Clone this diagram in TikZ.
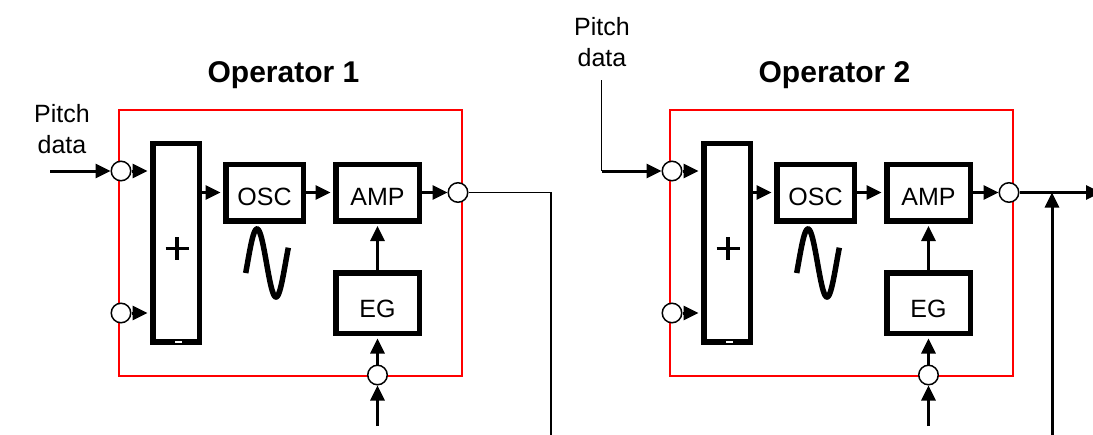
\documentclass[tikz,border=0pt]{standalone}
\usepackage{fontspec}
\setmainfont{Liberation Sans}
\usetikzlibrary{arrows.meta}
\tikzset{
  blk/.style={draw, line width=5.5pt, inner sep=0pt, font=\fontsize{25}{30}\selectfont, text height=26pt, text depth=0pt},
  port/.style={circle, draw, line width=1.5pt, fill=white, minimum size=19.5pt, inner sep=0pt},
  arr/.style={line width=3pt, -{Triangle[length=15pt,width=14pt]}},
  arrb/.style={arr, shorten >=2.5pt},
  wire/.style={line width=1.5pt},
  frame/.style={draw=red, line width=1.5pt, inner sep=0pt},
  lbl/.style={font=\fontsize{25}{31}\selectfont, align=center},
  ttl/.style={font=\bfseries\fontsize{30}{36}\selectfont},
}
\newcommand\opbody[1]{%
  \node[ttl, anchor=base] (title) at (283.5,82) {Operator #1};
  \node[frame, minimum width=343pt, minimum height=266pt] (frame) at (290.5,243) {};
  \node[blk, minimum width=46.5pt, minimum height=198.5pt] (adder) at (176,242.5) {};
  \node[blk, minimum width=77.5pt, minimum height=56.5pt] (osc) at (264.5,192.5) {OSC};
  \node[blk, minimum width=83.5pt, minimum height=56.5pt] (amp) at (377.5,192.5) {AMP};
  \node[blk, minimum width=83.5pt, minimum height=60.5pt, text height=28pt] (eg) at (377.5,303) {EG};
  \node[port] (in1) at (121,171) {};
  \node[port] (in2) at (121,313) {};
  \node[port] (out) at (458,192.5) {};
  \node[port] (egin) at (377.5,375) {};
  \coordinate (egsrc) at (377.5,426);
  \draw[line width=3.5pt] (165.5,248.5) -- (188.5,248.5) (177,237) -- (177,260);
  \fill[white] (174.5,340.5) rectangle (181.5,343);
  \draw[line width=5.5pt] plot[domain=-0.3:6.75, samples=70, smooth] ({247.5+\x*38/6.2832}, {263-34*sin(\x r)});
  \draw[arrb] (in1.east) -- (in1.east -| adder.west);
  \draw[arrb] (in2.east) -- (in2.east -| adder.west);
  \draw[arrb] (adder.east |- osc) -- (osc.west);
  \draw[arrb] (osc) -- (amp);
  \draw[arr] (amp) -- (out);
  \draw[arrb] (eg) -- (amp);
  \draw[arrb] (egin) -- (eg);
  \draw[arr] (egsrc) -- (egin);
}
\begin{document}
\begin{tikzpicture}[x=1pt,y=-1pt]
  \useasboundingbox (0,0) rectangle (1093,434);
  \begin{scope}[name prefix=a-]
    \opbody{1}
  \end{scope}
  \begin{scope}[xshift=551pt, name prefix=b-]
    \opbody{2}
  \end{scope}
  % Operator 1 external connections
  \node[lbl, anchor=base] (pd1) at (62,153) {Pitch\\data};
  \coordinate (p1) at (50,171);
  \draw[arr] (p1) -- (a-in1);
  \coordinate (a-down) at (551,440);
  \draw[wire] (a-out) -| (a-down);
  % Operator 2 external connections
  \node[lbl, anchor=base] (pd2) at (602,66) {Pitch\\data};
  \coordinate (p2) at (601.5,80);
  \coordinate (p2c) at (601.5,171);
  \draw[wire] (p2) -- (p2c);
  \draw[arr] (p2c) -- (b-in1);
  \coordinate (b-end) at (1101,192.5);
  \draw[arr] (b-out) -- (b-end);
  \coordinate (b-up) at (1052,440);
  \coordinate (b-join) at (1052,192.5);
  \draw[arr] (b-up) -- (b-join);
\end{tikzpicture}
\end{document}
